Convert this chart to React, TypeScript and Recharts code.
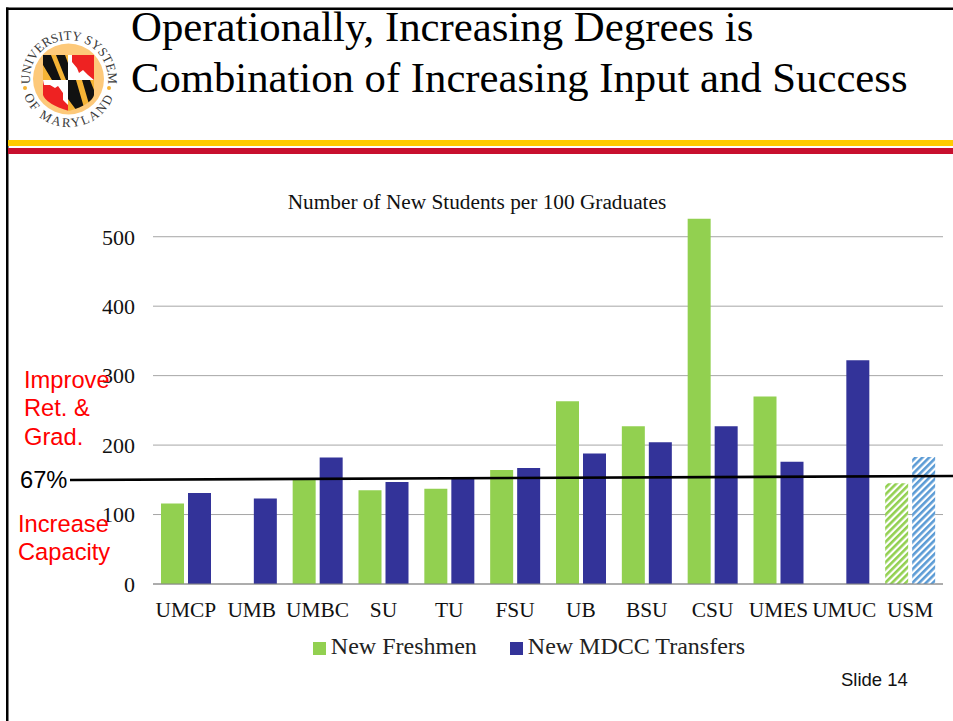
import { BarChart, Bar, Cell, XAxis, YAxis, CartesianGrid, Legend } from "recharts"

const schools = ["UMCP", "UMB", "UMBC", "SU", "TU", "FSU", "UB", "BSU", "CSU", "UMES", "UMUC", "USM"]
const freshmen = [116, null, 152, 135, 137, 164, 263, 227, 526, 270, null, 145]
const transfers = [131, 123, 182, 147, 153, 167, 188, 204, 227, 176, 322, 183]
const yTicks = [0, 100, 200, 300, 400, 500]

const data = schools.map((name, i) => ({ name, freshmen: freshmen[i], transfers: transfers[i] }))

const GREEN = "#92d050"
const NAVY = "#333399"
const SERIF = "'Liberation Serif', serif"
const SANS = "'Liberation Sans', sans-serif"

function Logo() {
  return (
    <g>
      <defs>
        <path id="ringTop" d="M 31.6 90 A 39 39 0 1 1 106.4 90" />
        <path id="ringBottom" d="M 21 79 A 48 48 0 0 0 117 79" />
        <clipPath id="shield">
          <path d="M43 55H94V95Q92 104 69 111Q46 104 43 95Z" />
        </clipPath>
      </defs>
      <circle cx="68.5" cy="79" r="35.5" fill="#fdc97a" />
      <g clipPath="url(#shield)">
        <rect x="43" y="55" width="25" height="25" fill="#f5b335" />
        <path d="M43 55h8l10 25h-9l-9-15zM56 55h9l3 8v17h-2z" fill="#111" />
        <rect x="68" y="55" width="26" height="25" fill="#ee2222" />
        <path d="M68 55h4v7l5 6 2 5 4-3 5 5 6 5H68z" fill="#fff" />
        <rect x="43" y="80" width="25" height="31" fill="#ee2222" />
        <path d="M43 80h25v25l-5-5v-7l-5-7-3 2-5-3-6 0z" fill="#fff" />
        <rect x="68" y="80" width="26" height="31" fill="#f5b335" />
        <path d="M68 80h8l9 31h-8l-9-12zM82 80h8l4 10v21h-3z" fill="#111" />
      </g>
      <text fontFamily={SERIF} fontSize="13" fill="#3a3a3a">
        <textPath href="#ringTop" startOffset="50%" textAnchor="middle">UNIVERSITY SYSTEM</textPath>
      </text>
      <text fontFamily={SERIF} fontSize="13" fill="#3a3a3a" letterSpacing="2">
        <textPath href="#ringBottom" startOffset="50%" textAnchor="middle">OF MARYLAND</textPath>
      </text>
      <circle cx="25" cy="88" r="2" fill="#f5b335" />
      <circle cx="109" cy="88" r="2" fill="#f5b335" />
    </g>
  )
}

export default function App() {
  return (
    <div style={{ position: "absolute", left: 0, top: 0, width: 953, height: 721, overflow: "hidden", background: "#fff" }}>
      <div style={{ position: "absolute", left: 0, top: 0 }}>
        <BarChart
          width={953}
          height={721}
          data={data}
          barSize={23}
          barGap={4}
          margin={{ top: 202, right: 10, bottom: 80, left: 93 }}
        >
          <defs>
            <pattern id="hatchGreen" width="4.8" height="4.8" patternUnits="userSpaceOnUse" patternTransform="rotate(-45)">
              <rect width="4.8" height="4.8" fill="#fff" />
              <rect width="4.8" height="2.6" fill={GREEN} />
            </pattern>
            <pattern id="hatchBlue" width="4.8" height="4.8" patternUnits="userSpaceOnUse" patternTransform="rotate(-45)">
              <rect width="4.8" height="4.8" fill="#fff" />
              <rect width="4.8" height="2.6" fill="#5b9bd5" />
            </pattern>
          </defs>
          <CartesianGrid vertical={false} stroke="#a6a6a6" strokeWidth={1} horizontalValues={yTicks} />
          <XAxis
            dataKey="name"
            interval={0}
            tickLine={false}
            axisLine={{ stroke: "#868686" }}
            tickMargin={12}
            tick={{ fontFamily: SERIF, fontSize: 21.4, fill: "#111" }}
          />
          <YAxis
            width={60}
            domain={[0, 550]}
            ticks={yTicks}
            axisLine={false}
            tickLine={false}
            tickMargin={12}
            tick={{ fontFamily: SERIF, fontSize: 22, fill: "#111" }}
          />
          <Legend
            verticalAlign="bottom"
            iconType="square"
            iconSize={13}
            wrapperStyle={{ fontFamily: SERIF, fontSize: 24, left: 0, width: 1068, bottom: 61 }}
            formatter={(value) => (
              <span style={{ color: "#222", marginLeft: 1, marginRight: value === "New Freshmen" ? 23 : 0 }}>{value}</span>
            )}
          />
          <Bar dataKey="freshmen" name="New Freshmen" fill={GREEN} isAnimationActive={false}>
            {data.map((d) => (
              <Cell key={d.name} fill={d.name === "USM" ? "url(#hatchGreen)" : GREEN} />
            ))}
          </Bar>
          <Bar dataKey="transfers" name="New MDCC Transfers" fill={NAVY} isAnimationActive={false}>
            {data.map((d) => (
              <Cell key={d.name} fill={d.name === "USM" ? "url(#hatchBlue)" : NAVY} />
            ))}
          </Bar>
        </BarChart>
      </div>

      {/* slide furniture on top of the chart */}
      <svg width={953} height={721} style={{ position: "absolute", left: 0, top: 0, pointerEvents: "none" }}>
        <rect x="6" y="7.5" width="2.5" height="714" fill="#000" />
        <rect x="6" y="7.5" width="947" height="2.5" fill="#000" />
        <rect x="8" y="140" width="945" height="6" fill="#ffcc00" />
        <rect x="8" y="148" width="945" height="6" fill="#c8102e" />
        <Logo />
        <text x="131" y="41" fontFamily={SERIF} fontSize="42.8" fill="#000">Operationally, Increasing Degrees is</text>
        <text x="131" y="92" fontFamily={SERIF} fontSize="42.7" fill="#000">Combination of Increasing Input and Success</text>
        <text x="477" y="209" textAnchor="middle" fontFamily={SERIF} fontSize="21.3" fill="#111">Number of New Students per 100 Graduates</text>
        <line x1="70" y1="480" x2="953" y2="476" stroke="#000" strokeWidth="2.7" />
        <text x="20" y="488" fontFamily={SANS} fontSize="23.7" fill="#000">67%</text>
        <g fontFamily={SANS} fontSize="23.7" fill="#ff0000">
          <text x="24" y="388">Improve</text>
          <text x="24" y="416">Ret. &amp;</text>
          <text x="24" y="445">Grad.</text>
          <text x="18" y="532">Increase</text>
          <text x="18" y="560">Capacity</text>
        </g>
        <text x="841" y="686" fontFamily={SANS} fontSize="18.5" fill="#111">Slide 14</text>
      </svg>
    </div>
  )
}
